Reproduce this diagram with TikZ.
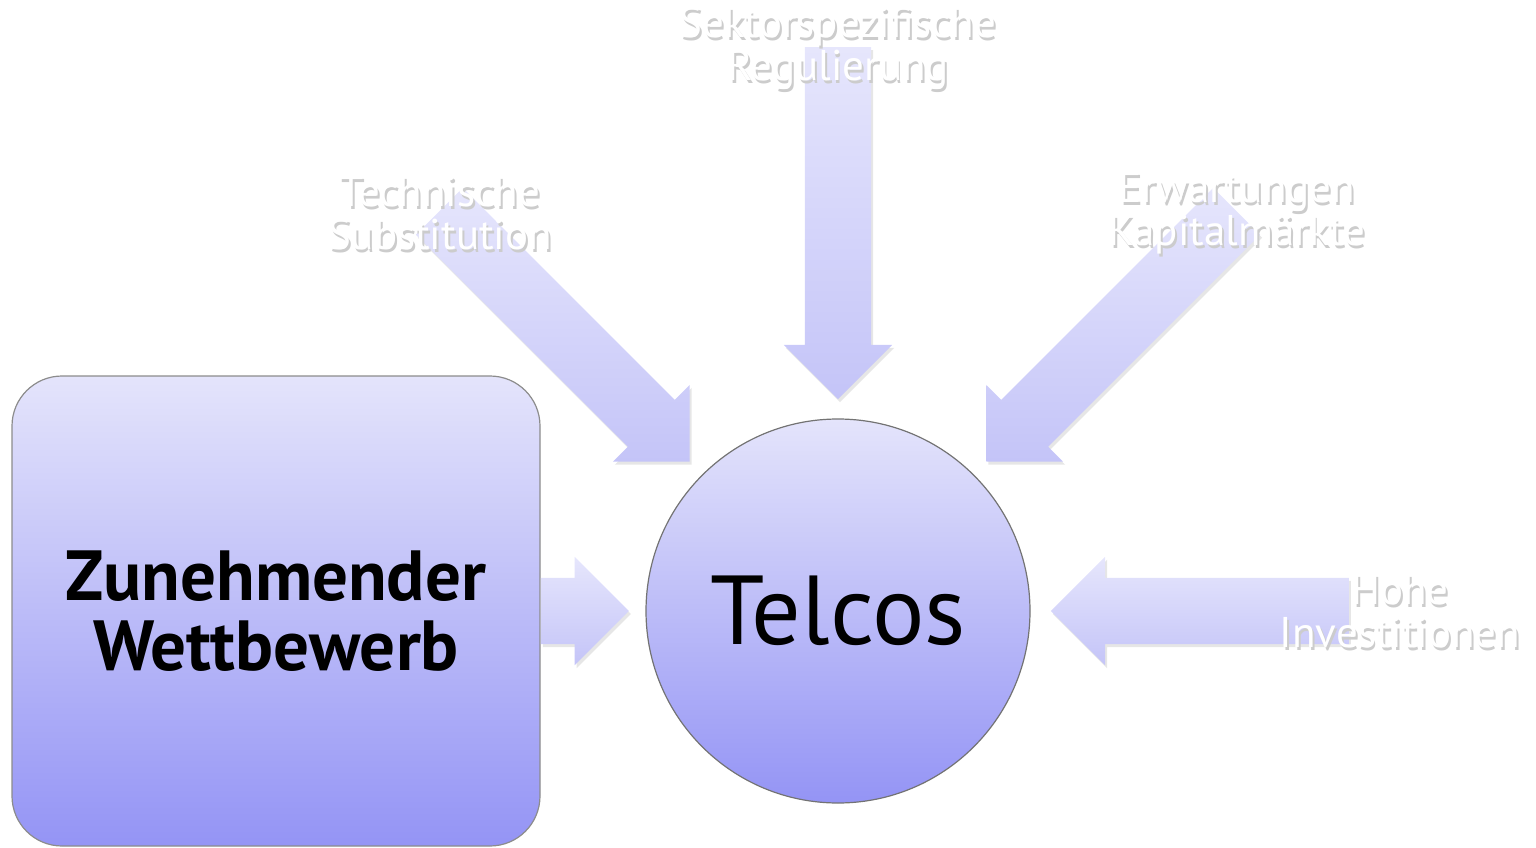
\documentclass[tikz,border=0pt]{standalone}
\usepackage{fontspec}
\setmainfont{PT Sans}
\usetikzlibrary{shapes.arrows,shadows,positioning}

\definecolor{boxtop}{RGB}{228,228,251}
\definecolor{boxbot}{RGB}{148,148,245}
\definecolor{arrtop}{RGB}{230,230,252}
\definecolor{arrbot}{RGB}{196,196,248}

% white text with a soft grey shadow
\newcommand{\glowtext}[1]{\makebox[0pt][l]{\hspace{2pt}\raisebox{-3pt}{\color{black!20}#1}}#1}

\begin{document}
\begin{tikzpicture}[x=1pt,y=-1pt,
        every node/.style={align=center},
        flowarrow/.style={shape=single arrow,single arrow head extend=21pt,single arrow tip angle=90,inner xsep=0pt,inner ysep=33pt,top color=arrtop,bottom color=arrbot,drop shadow={opacity=0.2,shadow xshift=2pt,shadow yshift=-3pt}},
        compbox/.style={shape=rectangle,rounded corners=50pt,minimum width=528pt,minimum height=470pt,draw=black!45,line width=1.2pt,top color=boxtop,bottom color=boxbot,font=\bfseries\fontsize{71}{70}\selectfont},
        telcocircle/.style={shape=circle,minimum size=384pt,inner sep=0pt,draw=black!55,line width=1.2pt,top color=boxtop,bottom color=boxbot,font=\fontsize{98}{100}\selectfont},
        forcelabel/.style={text=white,font=\fontsize{43}{43}\selectfont},
        ]
\useasboundingbox (0,0) rectangle (1536,848);

\node[compbox] (wettbewerb) at (276,611) {Zunehmender\\Wettbewerb};
\node[telcocircle] (telcos) at (838,611) {Telcos};

% arrows
\node[flowarrow,minimum height=88pt,right=0pt of wettbewerb] (warrow) {};
\node[flowarrow,rotate=-90,minimum height=352pt,anchor=tip] (regarrow) at ([yshift=19pt]telcos.north) {};
\node[flowarrow,rotate=-45,minimum height=354pt,anchor=tip] (techarrow) at ([xshift=-12pt,yshift=13pt]telcos.135) {};
\node[flowarrow,rotate=-135,minimum height=354pt,anchor=tip] (kaparrow) at ([xshift=12pt,yshift=13pt]telcos.45) {};
\node[flowarrow,rotate=180,minimum height=298pt,anchor=tip] (invarrow) at ([xshift=20pt]telcos.east) {};

% labels
\node[forcelabel] (reg) at (838,50) {\glowtext{Sektorspezifische}\\\glowtext{Regulierung}};
\node[forcelabel] (tech) at (440,215) {\glowtext{Technische}\\\glowtext{Substitution}};
\node[forcelabel] (kap) at (1237,215) {\glowtext{Erwartungen}\\\glowtext{Kapitalmärkte}};
\node[forcelabel] (inv) at (1400,613) {\glowtext{Hohe}\\\glowtext{Investitionen}};

\end{tikzpicture}
\end{document}
